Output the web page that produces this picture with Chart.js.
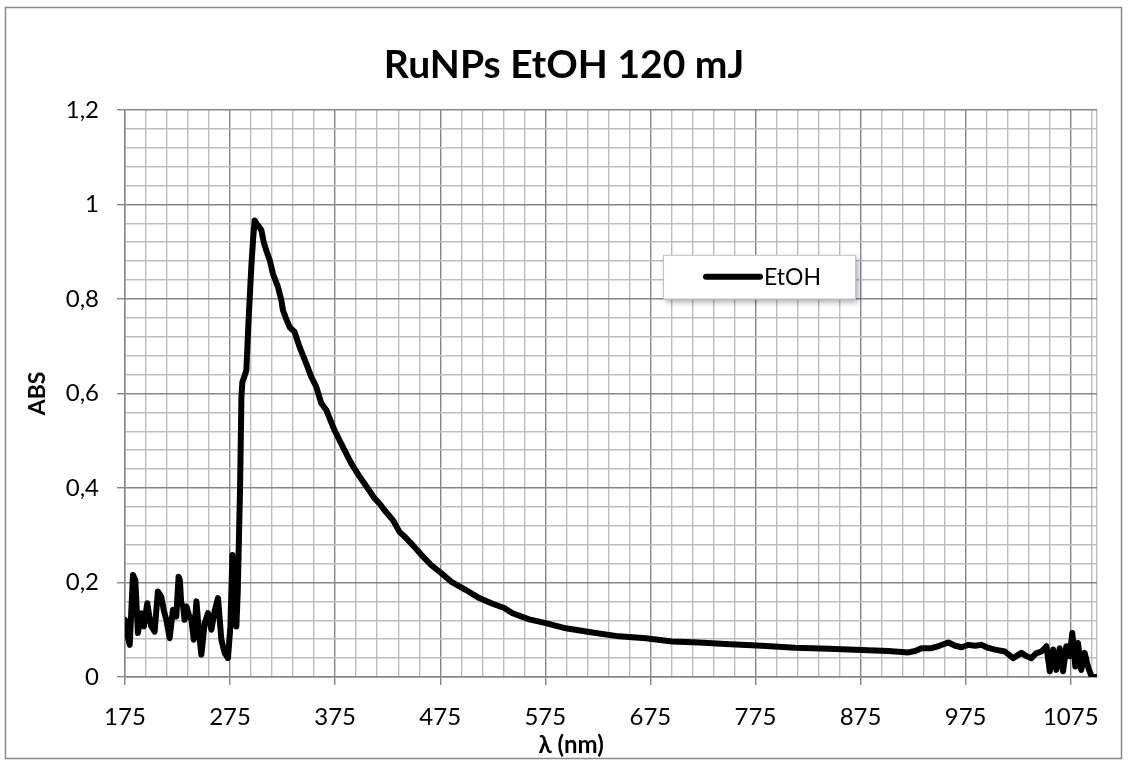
<!DOCTYPE html>
<html>
<head>
<meta charset="utf-8">
<script src="https://cdn.jsdelivr.net/npm/chart.js@4.4.1/dist/chart.umd.min.js"></script>
<style>
  html, body { margin: 0; padding: 0; background: #ffffff; }
  #wrap { width: 1128px; height: 760px; position: relative; }
</style>
</head>
<body>
<div id="wrap"><canvas id="c"></canvas></div>
<script>
const chartTitle = 'RuNPs EtOH 120 mJ';
const seriesLabel = 'EtOH';
const xAxisTitle = 'λ (nm)';
const yAxisTitle = 'ABS';

const wavelengths = [
  175, 177, 179.5, 181, 182.6, 184.8, 187.3, 190.5, 193, 196.2, 198, 200, 203.2, 206.3, 209.5, 212,
  214.3, 217.5, 220.6, 223.8, 226, 227.2, 228.5, 230.3, 231.7, 233.5, 236, 238.2, 240.4, 243, 245.4,
  247.7, 250.8, 254, 257.2, 260.3, 263.5, 266.7, 269.8, 273, 275.3, 277.2, 279.3, 281, 282.3, 283.5,
  284.5, 285.8, 286.7, 288.5, 290.5, 292.5, 295.2, 297, 298.4, 300, 301.6, 304.8, 307, 309.5, 312.7,
  315.8, 320.6, 323.8, 325.3, 328, 331.7, 336.4, 341.2, 347.5, 352.3, 357, 361.8, 366.5, 374.4, 382.3,
  390.3, 398.2, 406.1, 412.5, 417.2, 423, 429.9, 436.2, 442, 448.9, 458.4, 466.3, 475.8, 485.3, 499.5,
  512.1, 524.8, 535.9, 543.8, 559.6, 575.5, 594.5, 619.8, 645.1, 670.5, 695.8, 721.2, 746.5, 781, 812.7,
  844.7, 876.2, 901.5, 920.5, 927, 933, 942.6, 950, 958.5, 965, 971.2, 977.5, 984, 990.2, 996, 1002.8,
  1012.3, 1020.2, 1028.1, 1033, 1037.6, 1042, 1047.1, 1051.9, 1055.1, 1058.2, 1061.3, 1064.5, 1067.7,
  1070.8, 1074, 1076.5, 1079.4, 1081.9, 1085, 1088.3, 1091.4, 1094.6, 1097, 1099.5
];
const absorbance = [
  0.121, 0.090, 0.068, 0.140, 0.216, 0.205, 0.093, 0.135, 0.107, 0.156, 0.130, 0.107, 0.096, 0.181, 0.170, 0.140,
  0.121, 0.082, 0.142, 0.128, 0.212, 0.205, 0.156, 0.150, 0.121, 0.149, 0.130, 0.121, 0.079, 0.160, 0.093,
  0.047, 0.114, 0.135, 0.100, 0.139, 0.167, 0.079, 0.051, 0.040, 0.107, 0.258, 0.184, 0.107, 0.180, 0.300,
  0.400, 0.593, 0.624, 0.635, 0.649, 0.750, 0.867, 0.930, 0.966, 0.960, 0.955, 0.945, 0.920, 0.902, 0.882,
  0.853, 0.825, 0.797, 0.776, 0.760, 0.740, 0.730, 0.698, 0.663, 0.635, 0.614, 0.579, 0.565, 0.522, 0.487,
  0.452, 0.424, 0.399, 0.378, 0.367, 0.350, 0.332, 0.307, 0.295, 0.279, 0.255, 0.237, 0.220, 0.202, 0.184,
  0.167, 0.155, 0.146, 0.135, 0.122, 0.114, 0.103, 0.094, 0.086, 0.082, 0.075, 0.073, 0.070, 0.066, 0.062,
  0.060, 0.057, 0.055, 0.052, 0.055, 0.061, 0.061, 0.066, 0.073, 0.066, 0.063, 0.068, 0.066, 0.068, 0.062, 0.058,
  0.054, 0.040, 0.051, 0.044, 0.040, 0.050, 0.054, 0.065, 0.012, 0.058, 0.015, 0.061, 0.012,
  0.065, 0.044, 0.093, 0.022, 0.072, 0.015, 0.051, 0.022, 0.002, 0.000, 0.000
];

const xMin = 175, xMax = 1100, xMinorStep = 20;
const xMajorTicks = [175, 275, 375, 475, 575, 675, 775, 875, 975, 1075];
const yMin = 0, yMax = 1.2, yMinorStep = 0.04;
const yMajorTicks = [0, 0.2, 0.4, 0.6, 0.8, 1, 1.2];

const MAJOR = '#858585', MINOR = '#bdbdbd';
const FONT = 'Lato, "Open Sans", sans-serif';

function isXMajor(v) { return xMajorTicks.some(t => Math.abs(t - v) < 1e-6); }
function isYMajor(v) { return yMajorTicks.some(t => Math.abs(t - v) < 1e-6); }

const xTickValues = [];
for (let v = xMin; v <= xMax + 1e-6; v += xMinorStep) xTickValues.push(v);
if (xTickValues[xTickValues.length - 1] < xMax) xTickValues.push(xMax);
const yTickValues = [];
for (let i = 0; i * yMinorStep <= yMax + 1e-6; i++) yTickValues.push(Math.round(i * yMinorStep * 100) / 100);

const framePlugin = {
  id: 'frame',
  beforeDraw(chart) {
    const ctx = chart.ctx;
    ctx.save();
    ctx.fillStyle = '#ffffff';
    ctx.fillRect(0, 0, chart.width, chart.height);
    ctx.strokeStyle = '#898989';
    ctx.lineWidth = 1.5;
    ctx.strokeRect(5.5, 7.5, chart.width - 12, chart.height - 9);
    ctx.restore();
  },
  afterDraw(chart) {
    const ctx = chart.ctx;
    const a = chart.chartArea;
    ctx.save();
    // x axis title
    ctx.fillStyle = '#000';
    ctx.font = 'bold 24px ' + FONT;
    ctx.textAlign = 'center';
    ctx.textBaseline = 'middle';
    ctx.fillText(xAxisTitle, a.left + 0.459 * (a.right - a.left), 745);
    // legend box
    const lx = a.left + 0.5535 * (a.right - a.left);
    const ly = a.top + 0.2557 * (a.bottom - a.top);
    const lw = 192, lh = 44;
    ctx.shadowColor = 'rgba(0,0,0,0.35)';
    ctx.shadowBlur = 6;
    ctx.shadowOffsetX = 3;
    ctx.shadowOffsetY = 3;
    ctx.fillStyle = '#ffffff';
    ctx.fillRect(lx, ly, lw, lh);
    ctx.shadowColor = 'transparent';
    ctx.strokeStyle = '#b4c4dc';
    ctx.lineWidth = 1;
    ctx.strokeRect(lx + 0.5, ly + 0.5, lw, lh);
    const ds = chart.data.datasets[0];
    ctx.strokeStyle = ds.borderColor;
    ctx.lineWidth = 6;
    ctx.lineCap = 'round';
    ctx.beginPath();
    ctx.moveTo(lx + 43, ly + 22);
    ctx.lineTo(lx + 97, ly + 22);
    ctx.stroke();
    ctx.fillStyle = '#000';
    ctx.font = '23px ' + FONT;
    ctx.textAlign = 'left';
    ctx.textBaseline = 'middle';
    ctx.fillText(ds.label, lx + 101, ly + 23);
    ctx.restore();
  }
};

new Chart(document.getElementById('c'), {
  type: 'line',
  data: {
    datasets: [{
      label: seriesLabel,
      data: wavelengths.map((x, i) => ({ x: x, y: absorbance[i] })),
      borderColor: '#000000',
      borderWidth: 6,
      pointRadius: 0,
      tension: 0,
      borderJoinStyle: 'round',
      borderCapStyle: 'round',
      fill: false
    }]
  },
  options: {
    responsive: true,
    maintainAspectRatio: false,
    animation: false,
    layout: { padding: { left: 31, right: 31, top: 0, bottom: 0 } },
    plugins: {
      legend: { display: false },
      tooltip: { enabled: false },
      title: {
        display: true,
        text: chartTitle,
        color: '#000',
        font: { family: FONT, size: 39, weight: 'bold', lineHeight: 1.2 },
        padding: { top: 42, bottom: 21 }
      }
    },
    scales: {
      x: {
        type: 'linear',
        min: xMin,
        max: xMax,
        afterBuildTicks(scale) { scale.ticks = xTickValues.map(v => ({ value: v })); },
        afterFit(scale) { scale.height = 83; },
        ticks: {
          autoSkip: false,
          maxRotation: 0,
          padding: 18,
          color: '#000',
          font: { family: FONT, size: 24 },
          callback(v) { return isXMajor(v) ? String(v) : ''; }
        },
        grid: {
          color: ctx => (ctx.tick && isXMajor(ctx.tick.value)) ? MAJOR : MINOR,
          tickColor: ctx => (ctx.tick && isXMajor(ctx.tick.value)) ? MAJOR : 'rgba(0,0,0,0)',
          lineWidth: 1.4,
          tickLength: 8
        },
        border: { color: MAJOR, width: 1.4 }
      },
      y: {
        type: 'linear',
        min: yMin,
        max: yMax,
        afterBuildTicks(scale) { scale.ticks = yTickValues.map(v => ({ value: v })); },
        afterFit(scale) { scale.width = 94; },
        ticks: {
          autoSkip: false,
          padding: 18,
          color: '#000',
          font: { family: FONT, size: 24 },
          callback(v) { return isYMajor(v) ? String(Math.round(v * 10) / 10).replace('.', ',') : ''; }
        },
        grid: {
          color: ctx => (ctx.tick && isYMajor(ctx.tick.value)) ? MAJOR : MINOR,
          tickColor: ctx => (ctx.tick && isYMajor(ctx.tick.value)) ? MAJOR : 'rgba(0,0,0,0)',
          lineWidth: 1.4,
          tickLength: 8
        },
        border: { color: MAJOR, width: 1.4 },
        title: {
          display: true,
          text: yAxisTitle,
          color: '#000',
          font: { family: FONT, size: 23, weight: 'bold', lineHeight: 0.6 },
          padding: 0
        }
      }
    }
  },
  plugins: [framePlugin]
});
</script>
</body>
</html>
